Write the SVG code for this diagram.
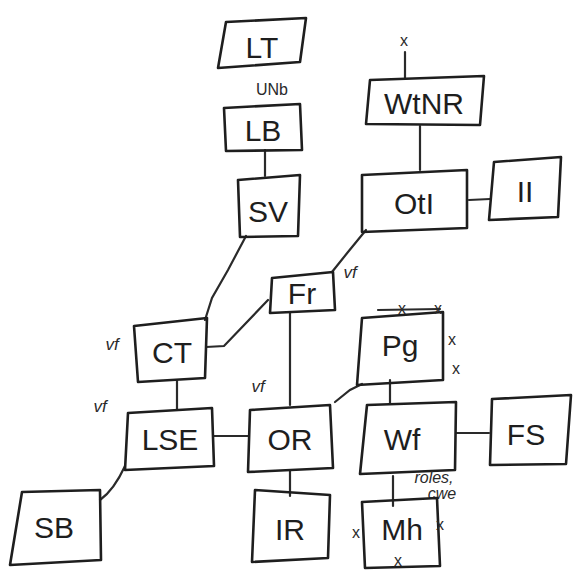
<svg xmlns="http://www.w3.org/2000/svg" width="573" height="572" viewBox="0 0 573 572">
<style>
.b{fill:none;stroke:#1e1e1e;stroke-width:2.6;stroke-linejoin:round;stroke-linecap:round}
.c{fill:none;stroke:#2a2a2a;stroke-width:2.2;stroke-linecap:round}
.t{font-family:"Liberation Sans",Arial,sans-serif;font-size:30px;fill:#1e1e1e;text-anchor:middle}
.s{font-family:"Liberation Sans",Arial,sans-serif;font-size:17px;fill:#2a2a2a;font-style:italic;text-anchor:middle}
.x{font-family:"Liberation Sans",Arial,sans-serif;font-size:16px;fill:#2a2a2a;text-anchor:middle}
</style>
<rect width="573" height="572" fill="#fff"/>
<g id="connectors">
<path class="c" d="M265 150 L265 176"/>
<path class="c" d="M246 236 L228 270 L212 298 L205 320"/>
<path class="c" d="M366 230 L348 252 L332 272"/>
<path class="c" d="M206 347 L224 346 L268 300"/>
<path class="c" d="M290 312 L290 405"/>
<path class="c" d="M177 381 L177 410"/>
<path class="c" d="M214 436 L248 436"/>
<path class="c" d="M335 402 L350 390 L362 384"/>
<path class="c" d="M390 380 L390 404"/>
<path class="c" d="M456 433 L489 433"/>
<path class="c" d="M393 476 L393 506"/>
<path class="c" d="M125 466 Q114 490 100 500"/>
<path class="c" d="M290 471 L290 496"/>
<path class="c" d="M469 200 L490 199"/>
<path class="c" d="M420 126 L420 170"/>
<path class="c" d="M405 79 L405 52"/>
</g>
<g id="LT"><path class="b" d="M226 22 L306 18 L300 62 L218 68 Z"/><text class="t" x="262" y="58">LT</text></g>
<text class="x" x="272" y="95" font-size="20">UNb</text>
<g id="LB"><path class="b" d="M224 108 L300 104 L302 150 L226 151 Z"/><text class="t" x="263" y="141">LB</text></g>
<g id="SV"><path class="b" d="M238 180 L300 175 L298 236 L240 237 Z"/><text class="t" x="268" y="222">SV</text></g>
<g id="WtNR"><path class="b" d="M370 80 L484 76 L480 125 L366 124 Z"/><text class="t" x="424" y="114">WtNR</text><text class="x" x="404" y="46" font-size="20">x</text></g>
<g id="OtI"><path class="b" d="M362 175 L467 170 L467 228 L362 232 Z"/><text class="t" x="414" y="214">OtI</text></g>
<g id="II"><path class="b" d="M494 162 L561 157 L558 217 L489 220 Z"/><text class="t" x="525" y="202">II</text></g>
<g id="Fr"><path class="b" d="M272 278 L333 272 L335 310 L270 313 Z"/><text class="t" x="302" y="304" font-size="26">Fr</text></g>
<text class="s" x="350" y="278">vf</text>
<g id="CT"><path class="b" d="M134 326 L207 318 L205 378 L138 382 Z"/><text class="t" x="172" y="363">CT</text></g>
<text class="s" x="112" y="350">vf</text>
<g id="PG"><path class="b" d="M362 318 L443 312 L443 380 L357 385 Z"/><text class="t" x="400" y="356">Pg</text>
<path class="c" d="M378 310 L440 309"/><text class="x" x="402" y="314">x</text><text class="x" x="438" y="314">x</text><text class="x" x="452" y="345">x</text><text class="x" x="456" y="374">x</text></g>
<g id="LSE"><path class="b" d="M128 413 L212 408 L214 466 L125 470 Z"/><text class="t" x="170" y="450">LSE</text></g>
<text class="s" x="100" y="412">vf</text>
<g id="OR"><path class="b" d="M250 410 L330 405 L333 468 L248 472 Z"/><text class="t" x="290" y="450">OR</text></g>
<text class="s" x="258" y="392">vf</text>
<g id="Wf"><path class="b" d="M367 405 L456 402 L455 470 L360 474 Z"/><text class="t" x="402" y="450">Wf</text></g>
<g id="FS"><path class="b" d="M492 399 L571 395 L566 464 L490 465 Z"/><text class="t" x="526" y="445">FS</text></g>
<text class="x" x="434" y="483" font-size="13" font-style="italic">roles,</text>
<text class="x" x="442" y="499" font-size="13" font-style="italic">cwe</text>
<g id="SB"><path class="b" d="M22 492 L100 490 L101 560 L10 565 Z"/><text class="t" x="54" y="538">SB</text></g>
<g id="IR"><path class="b" d="M255 490 L330 495 L328 558 L252 562 Z"/><text class="t" x="290" y="540">IR</text></g>
<g id="Mh"><path class="b" d="M362 502 L437 498 L440 566 L365 568 Z"/><text class="t" x="402" y="540">Mh</text>
<text class="x" x="356" y="538">x</text><text class="x" x="440" y="530">x</text><text class="x" x="398" y="566" font-size="14">x</text></g>
</svg>
